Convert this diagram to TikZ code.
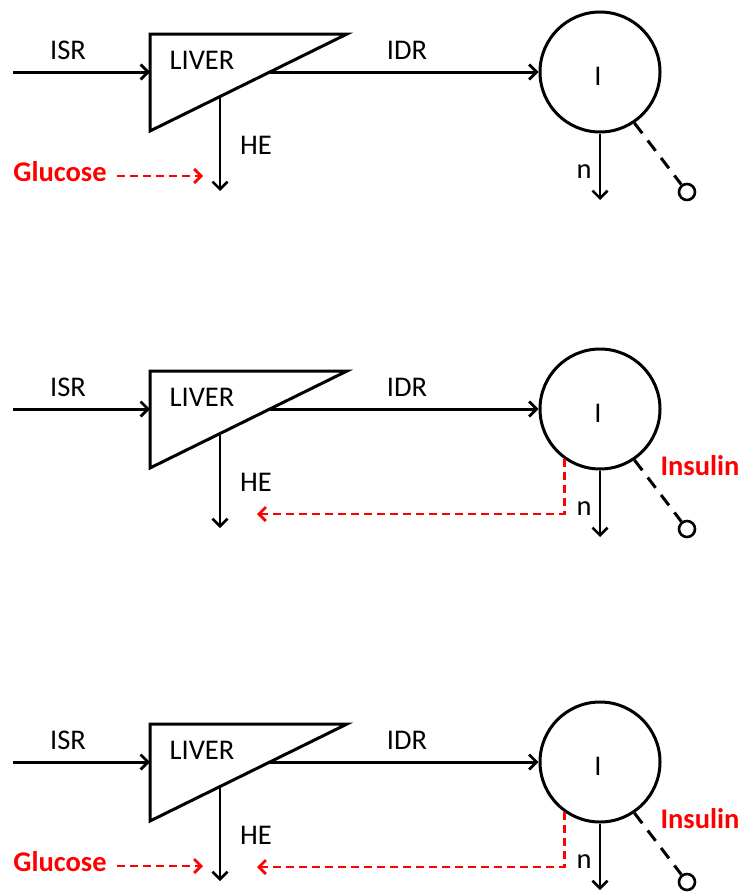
\documentclass[tikz,border=0pt]{standalone}
\usepackage{fontspec}
\setmainfont{Carlito}
\usetikzlibrary{arrows.meta}
\tikzset{
  lbl/.style={font=\fontsize{28.5}{32}\selectfont, inner sep=0pt},
  redlbl/.style={font=\fontsize{28.5}{32}\selectfont\bfseries, text=red, inner sep=0pt},
  flow/.style={line width=3pt, -{Straight Barb[length=7.5pt,width=15pt,line width=2.8pt]}},
  thinflow/.style={line width=2.6pt, -{Straight Barb[length=7.5pt,width=15pt,line width=2.6pt]}},
  redflow/.style={red, line width=2.8pt, dash pattern=on 8pt off 5pt, -{Straight Barb[length=7pt,width=14pt,line width=2.8pt]}},
  comp/.style={circle, draw, line width=3pt, minimum size=120pt, inner sep=0pt},
  outlet/.style={circle, draw, line width=2.6pt, minimum size=16pt, inner sep=0pt},
  leak/.style={line width=3pt, dash pattern=on 13pt off 9pt},
}
\newcommand{\panel}[4]{%
  \begin{scope}[shift={(0,#1)}]
    \coordinate (isrS#2) at (13,72);
    \coordinate (tA#2) at (150,34);
    \coordinate (tB#2) at (347,34);
    \coordinate (tC#2) at (150,131);
    \draw[line width=3pt, line join=miter] (tA#2) -- (tB#2) -- (tC#2) -- cycle;
    \coordinate (triL#2) at (150,72);
    \coordinate (hypI#2) at (270,72);
    \coordinate (hypH#2) at (220,96.5);
    \coordinate (heE#2) at (220,191);
    \node[comp] (I#2) at (600,72) {};
    \node[lbl] (Ilab#2) at (598,76) {I};
    \node[lbl] (liver#2) at (202,60) {LIVER};
    \node[lbl] (isr#2) at (68,50) {ISR};
    \node[lbl] (idr#2) at (407,50) {IDR};
    \node[lbl] (he#2) at (256,145) {HE};
    \node[lbl] (n#2) at (584,172) {n};
    \coordinate (nE#2) at (600,200);
    \node[outlet] (o#2) at (687,192) {};
    \draw[flow] (isrS#2) -- (triL#2);
    \draw[flow] (hypI#2) -- (I#2.west);
    \draw[thinflow] (hypH#2) -- (heE#2);
    \draw[thinflow] (I#2.south) -- (nE#2);
    \draw[leak] (I#2.304.7) -- (o#2);
    \ifnum#3=1
      \node[redlbl] (glu#2) at (60,172) {Glucose};
      \coordinate (gluS#2) at (117,176);
      \coordinate (gluE#2) at (203,176);
      \draw[redflow] (gluS#2) -- (gluE#2);
    \fi
    \ifnum#4=1
      \node[redlbl] (ins#2) at (700,129) {Insulin};
      \coordinate (fbE#2) at (257,177);
      \draw[redflow] (I#2.235.5) |- (fbE#2);
    \fi
  \end{scope}}
\begin{document}
\begin{tikzpicture}[x=1pt,y=-1pt]
\useasboundingbox (0,0) rectangle (744,894);
\panel{0}{a}{1}{0}
\panel{337}{b}{0}{1}
\panel{690}{c}{1}{1}
\end{tikzpicture}
\end{document}
